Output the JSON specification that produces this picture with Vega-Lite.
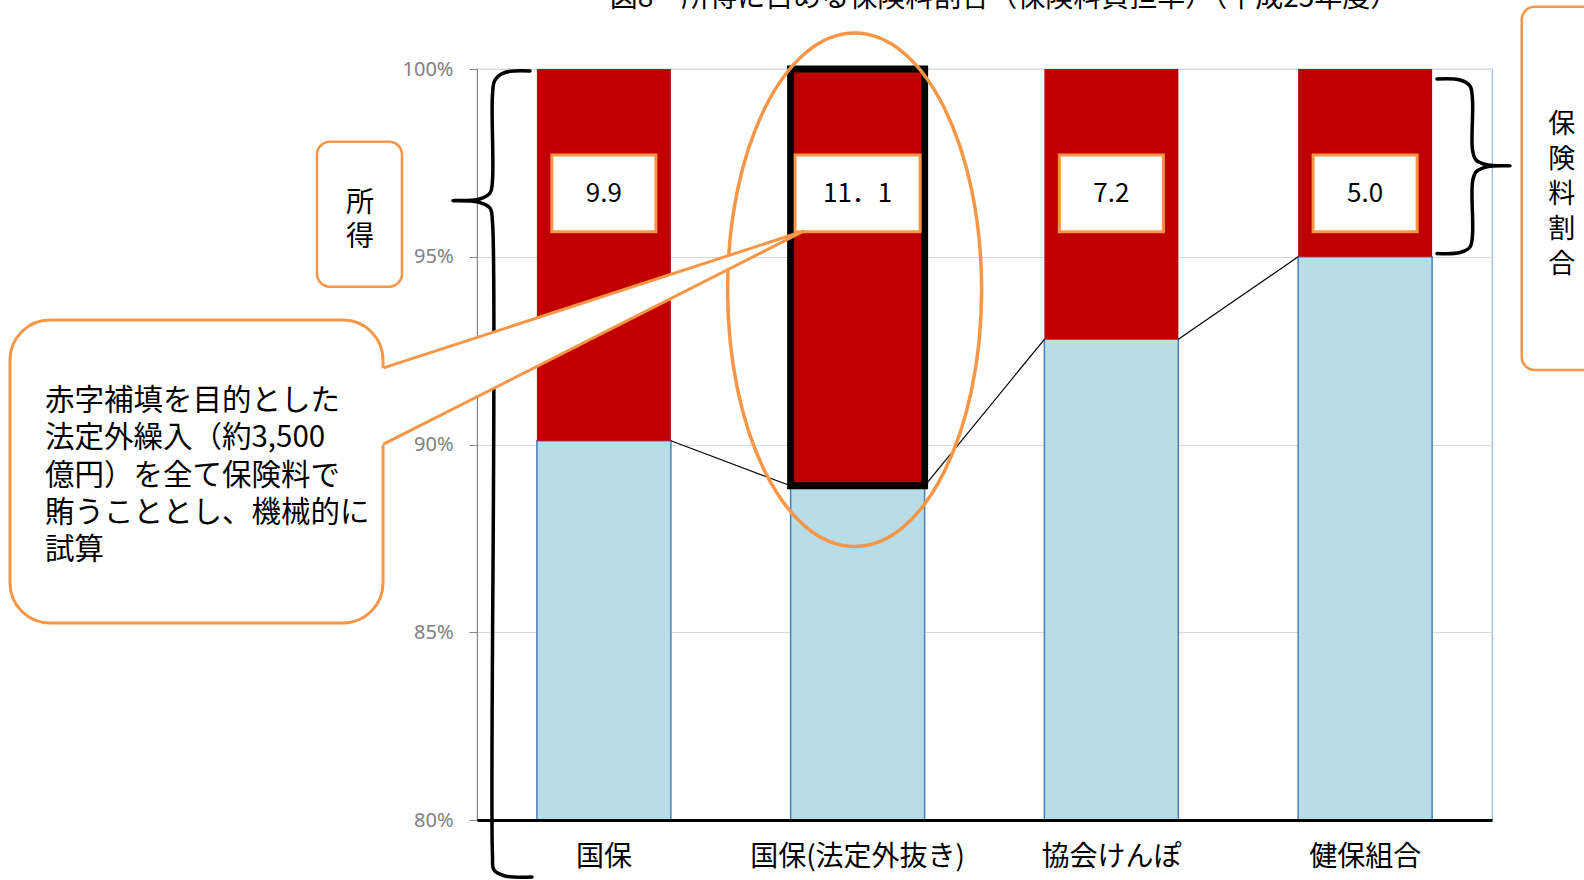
{
  "$schema": "https://vega.github.io/schema/vega-lite/v6.json",
  "width": 1015,
  "height": 751,
  "autosize": {"type": "none"},
  "padding": {"left": 477, "top": 69, "right": 92, "bottom": 60},
  "background": "white",
  "config": {
    "font": "Noto Sans CJK JP",
    "view": {"stroke": "#95B3D7", "strokeWidth": 1.2}
  },
  "datasets": {
    "main": [
      {"cat": "国保", "income": 90.1, "premium": 9.9, "label": "9.9"},
      {"cat": "国保(法定外抜き)", "income": 88.9, "premium": 11.1, "label": "11．1"},
      {"cat": "協会けんぽ", "income": 92.8, "premium": 7.2, "label": "7.2"},
      {"cat": "健保組合", "income": 95.0, "premium": 5.0, "label": "5.0"}
    ],
    "braces": [
      {"brace": "left", "i": 1, "x": 0.2089, "y": 99.947},
      {"brace": "left", "i": 2, "x": 0.1103, "y": 99.907},
      {"brace": "left", "i": 3, "x": 0.0709, "y": 99.707},
      {"brace": "left", "i": 4, "x": 0.061, "y": 99.308},
      {"brace": "left", "i": 5, "x": 0.061, "y": 97.044},
      {"brace": "left", "i": 6, "x": 0.0512, "y": 96.698},
      {"brace": "left", "i": 7, "x": 0.0039, "y": 96.525},
      {"brace": "left", "i": 8, "x": -0.0946, "y": 96.493},
      {"brace": "left", "i": 9, "x": 0.0039, "y": 96.458},
      {"brace": "left", "i": 10, "x": 0.0512, "y": 96.298},
      {"brace": "left", "i": 11, "x": 0.061, "y": 95.925},
      {"brace": "left", "i": 12, "x": 0.061, "y": 79.068},
      {"brace": "left", "i": 13, "x": 0.067, "y": 78.668},
      {"brace": "left", "i": 14, "x": 0.1103, "y": 78.509},
      {"brace": "left", "i": 15, "x": 0.2167, "y": 78.482},
      {"brace": "right", "i": 1, "x": 3.7833, "y": 99.734},
      {"brace": "right", "i": 2, "x": 3.8739, "y": 99.707},
      {"brace": "right", "i": 3, "x": 3.9133, "y": 99.547},
      {"brace": "right", "i": 4, "x": 3.9232, "y": 99.174},
      {"brace": "right", "i": 5, "x": 3.9232, "y": 97.843},
      {"brace": "right", "i": 6, "x": 3.9369, "y": 97.577},
      {"brace": "right", "i": 7, "x": 3.9842, "y": 97.443},
      {"brace": "right", "i": 8, "x": 4.0709, "y": 97.425},
      {"brace": "right", "i": 9, "x": 3.9842, "y": 97.403},
      {"brace": "right", "i": 10, "x": 3.9369, "y": 97.257},
      {"brace": "right", "i": 11, "x": 3.9232, "y": 96.991},
      {"brace": "right", "i": 12, "x": 3.9232, "y": 95.579},
      {"brace": "right", "i": 13, "x": 3.9133, "y": 95.26},
      {"brace": "right", "i": 14, "x": 3.8739, "y": 95.113},
      {"brace": "right", "i": 15, "x": 3.7833, "y": 95.087}
    ]
  },
  "resolve": {"scale": {"x": "independent"}, "axis": {"x": "independent"}},
  "layer": [
    {
      "data": {"name": "main"},
      "encoding": {
        "x": {
          "field": "cat",
          "type": "nominal",
          "sort": null,
          "title": null,
          "scale": {"domain": ["国保", "国保(法定外抜き)", "協会けんぽ", "健保組合"], "paddingInner": 0.472, "paddingOuter": 0.236}
        }
      },
      "layer": [
        {
          "mark": {"type": "bar", "fill": "#B7DDE8", "stroke": "#4A7EBB", "strokeWidth": 1.5},
          "encoding": {
            "x": {
              "field": "cat",
              "type": "nominal",
              "sort": null,
              "title": null,
              "scale": {"domain": ["国保", "国保(法定外抜き)", "協会けんぽ", "健保組合"], "paddingInner": 0.472, "paddingOuter": 0.236},
              "axis": {"title": null, "orient": "bottom", "labelAngle": 0, "labelFontSize": 28, "labelLimit": 500, "labelColor": "#000000", "ticks": false, "labelPadding": 23, "domainColor": "#000000", "domainWidth": 3, "zindex": 1, "labelFont": "Noto Sans CJK JP", "grid": false}
            },
            "y": {
              "field": "income",
              "type": "quantitative",
              "title": null,
              "scale": {"domain": [80, 100], "nice": false, "zero": false},
              "axis": {"title": null, "orient": "left", "values": [80, 85, 90, 95, 100], "labelExpr": "datum.value + '%'", "labelFont": "Noto Sans", "labelFontSize": 20, "labelColor": "#808080", "tickColor": "#868686", "tickSize": 8, "domainColor": "#868686", "labelPadding": 16, "grid": true, "gridColor": "#D9D9D9", "gridWidth": 1}
            },
            "y2": {"datum": 80}
          }
        },
        {
          "mark": {"type": "bar", "fill": "#C00000"},
          "encoding": {
            "y": {"field": "income", "type": "quantitative", "title": null, "scale": {"domain": [80, 100], "nice": false, "zero": false}},
            "y2": {"datum": 100}
          }
        },
        {
          "transform": [
            {"window": [{"op": "lead", "field": "cat", "as": "next"}, {"op": "lead", "field": "income", "as": "next_income"}]},
            {"filter": "datum.next != null"}
          ],
          "mark": {"type": "rule", "stroke": "#000000", "strokeWidth": 1.2},
          "encoding": {
            "x": {
              "field": "cat",
              "type": "nominal",
              "sort": null,
              "title": null,
              "bandPosition": 1,
              "scale": {"domain": ["国保", "国保(法定外抜き)", "協会けんぽ", "健保組合"], "paddingInner": 0.472, "paddingOuter": 0.236}
            },
            "x2": {"field": "next", "bandPosition": 0},
            "y": {"field": "income", "type": "quantitative", "title": null, "scale": {"domain": [80, 100], "nice": false, "zero": false}},
            "y2": {"field": "next_income"}
          }
        },
        {
          "transform": [{"filter": "datum.cat === '国保(法定外抜き)'"}],
          "mark": {"type": "bar", "filled": false, "stroke": "#000000", "strokeWidth": 7},
          "encoding": {
            "y": {"field": "income", "type": "quantitative", "title": null, "scale": {"domain": [80, 100], "nice": false, "zero": false}},
            "y2": {"datum": 100}
          }
        },
        {
          "mark": {"type": "bar", "fill": "#FFFFFF", "stroke": "#F79646", "strokeWidth": 3},
          "encoding": {
            "size": {"condition": {"test": "datum.cat === '国保(法定外抜き)'", "value": 125}, "value": 104},
            "y": {"datum": 97.71, "title": null, "scale": {"domain": [80, 100], "nice": false, "zero": false}},
            "y2": {"datum": 95.667}
          }
        },
        {
          "mark": {"type": "text", "fontSize": 26, "color": "#000000", "font": "Noto Sans CJK JP", "align": "center", "baseline": "middle"},
          "encoding": {
            "text": {"field": "label"},
            "y": {"datum": 96.671, "title": null, "scale": {"domain": [80, 100], "nice": false, "zero": false}}
          }
        },
        {
          "transform": [{"filter": "datum.cat === '国保(法定外抜き)'"}],
          "mark": {"type": "point", "shape": "M0,-1A0.4947,1,0,1,1,0,1A0.4947,1,0,1,1,0,-1Z", "size": 263682, "filled": false, "stroke": "#F79646", "strokeWidth": 3.5, "opacity": 1, "strokeOpacity": 1, "xOffset": -3},
          "encoding": {
            "y": {"datum": 94.12, "title": null, "scale": {"domain": [80, 100], "nice": false, "zero": false}}
          }
        }
      ]
    },
    {
      "layer": [
        {
          "data": {"name": "braces"},
          "mark": {"type": "line", "interpolate": "catmull-rom", "stroke": "#000000", "strokeWidth": 3.5, "strokeCap": "round"},
          "encoding": {
            "x": {"field": "x", "type": "quantitative", "scale": {"domain": [0, 4], "nice": false, "zero": false}, "axis": null},
            "y": {"field": "y", "type": "quantitative", "title": null, "scale": {"domain": [80, 100], "nice": false, "zero": false}},
            "detail": {"field": "brace"},
            "order": {"field": "i", "type": "quantitative"}
          }
        },
        {
          "data": {"values": [{"x": -1.8404, "x2": -0.3704, "y": 93.316, "y2": 85.246}]},
          "mark": {"type": "rect", "fill": "#FFFFFF", "stroke": "#F79646", "strokeWidth": 3, "cornerRadius": 40},
          "encoding": {
            "x": {"field": "x", "type": "quantitative", "scale": {"domain": [0, 4], "nice": false, "zero": false}, "axis": null},
            "x2": {"field": "x2"},
            "y": {"field": "y", "type": "quantitative", "title": null, "scale": {"domain": [80, 100], "nice": false, "zero": false}},
            "y2": {"field": "y2"}
          }
        },
        {
          "data": {"values": [{"x": -0.398, "top": 91.976, "bottom": 89.907}, {"x": 1.2887, "top": 95.686, "bottom": 95.686}]},
          "mark": {"type": "area", "fill": "#FFFFFF", "orient": "vertical", "opacity": 1},
          "encoding": {
            "x": {"field": "x", "type": "quantitative", "scale": {"domain": [0, 4], "nice": false, "zero": false}, "axis": null},
            "y": {"field": "top", "type": "quantitative", "title": null, "scale": {"domain": [80, 100], "nice": false, "zero": false}},
            "y2": {"field": "bottom"}
          }
        },
        {
          "data": {"values": [{"x": -0.3685, "y": 92.04, "x2": 1.2887, "y2": 95.686}, {"x": -0.3685, "y": 90.008, "x2": 1.2887, "y2": 95.686}]},
          "mark": {"type": "rule", "stroke": "#F79646", "strokeWidth": 3},
          "encoding": {
            "x": {"field": "x", "type": "quantitative", "scale": {"domain": [0, 4], "nice": false, "zero": false}, "axis": null},
            "x2": {"field": "x2"},
            "y": {"field": "y", "type": "quantitative", "title": null, "scale": {"domain": [80, 100], "nice": false, "zero": false}},
            "y2": {"field": "y2"}
          }
        },
        {
          "data": {"values": [{"x": -1.7025, "y": 91.166, "text": "赤字補填を目的とした\n法定外繰入（約3,500\n億円）を全て保険料で\n賄うこととし、機械的に\n試算"}]},
          "mark": {"type": "text", "align": "left", "baseline": "middle", "fontSize": 29.5, "lineHeight": 37.4, "lineBreak": "\n", "color": "#000000", "font": "Noto Sans CJK JP"},
          "encoding": {
            "x": {"field": "x", "type": "quantitative", "scale": {"domain": [0, 4], "nice": false, "zero": false}, "axis": null},
            "y": {"field": "y", "type": "quantitative", "title": null, "scale": {"domain": [80, 100], "nice": false, "zero": false}},
            "text": {"field": "text"}
          }
        },
        {
          "data": {"values": [{"x": -0.6305, "x2": -0.2956, "y": 98.064, "y2": 94.2}, {"x": 4.1171, "x2": 4.4256, "y": 101.659, "y2": 91.984}]},
          "mark": {"type": "rect", "fill": "#FFFFFF", "stroke": "#F79646", "strokeWidth": 2.5, "cornerRadius": 13},
          "encoding": {
            "x": {"field": "x", "type": "quantitative", "scale": {"domain": [0, 4], "nice": false, "zero": false}, "axis": null},
            "x2": {"field": "x2"},
            "y": {"field": "y", "type": "quantitative", "title": null, "scale": {"domain": [80, 100], "nice": false, "zero": false}},
            "y2": {"field": "y2"}
          }
        },
        {
          "data": {"values": [{"x": -0.4611, "y": 96.4, "text": "所\n得"}]},
          "mark": {"type": "text", "align": "center", "baseline": "middle", "fontSize": 28, "lineHeight": 33.5, "lineBreak": "\n", "color": "#000000", "font": "Noto Sans CJK JP"},
          "encoding": {
            "x": {"field": "x", "type": "quantitative", "scale": {"domain": [0, 4], "nice": false, "zero": false}, "axis": null},
            "y": {"field": "y", "type": "quantitative", "title": null, "scale": {"domain": [80, 100], "nice": false, "zero": false}},
            "text": {"field": "text"}
          }
        },
        {
          "data": {"values": [{"x": 4.2747, "y": 98.5, "text": "保\n険\n料\n割\n合"}]},
          "mark": {"type": "text", "align": "center", "baseline": "middle", "fontSize": 27, "lineHeight": 34.8, "lineBreak": "\n", "color": "#000000", "font": "Noto Sans CJK JP"},
          "encoding": {
            "x": {"field": "x", "type": "quantitative", "scale": {"domain": [0, 4], "nice": false, "zero": false}, "axis": null},
            "y": {"field": "y", "type": "quantitative", "title": null, "scale": {"domain": [80, 100], "nice": false, "zero": false}},
            "text": {"field": "text"}
          }
        },
        {
          "data": {"values": [{"x": 2.0768, "y": 101.651, "text": "図8　所得に占める保険料割合（保険料負担率）（平成25年度）"}]},
          "mark": {"type": "text", "align": "center", "baseline": "alphabetic", "fontSize": 28, "color": "#000000", "font": "Noto Sans CJK JP"},
          "encoding": {
            "x": {"field": "x", "type": "quantitative", "scale": {"domain": [0, 4], "nice": false, "zero": false}, "axis": null},
            "y": {"field": "y", "type": "quantitative", "title": null, "scale": {"domain": [80, 100], "nice": false, "zero": false}},
            "text": {"field": "text"}
          }
        }
      ]
    }
  ]
}
